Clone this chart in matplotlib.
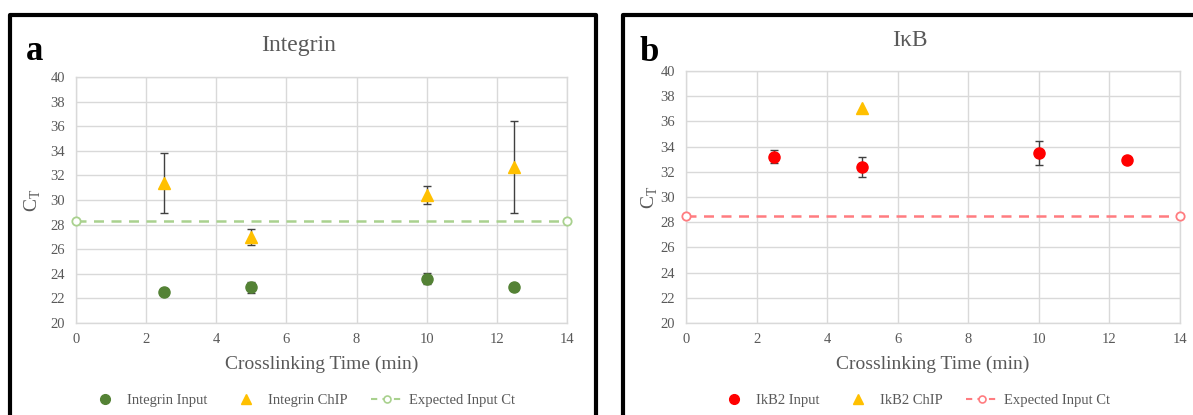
import matplotlib.pyplot as plt
from matplotlib.lines import Line2D

plt.rcParams['font.family'] = ['Liberation Serif', 'DejaVu Serif']
plt.rcParams['mathtext.fontset'] = 'custom'
plt.rcParams['mathtext.rm'] = 'Liberation Serif'

# crosslinking times (min)
x_times = [2.5, 5, 10, 12.5]
x_line = [0, 14]

# Integrin panel
integrin_input = [22.5, 22.9, 23.6, 22.9]
integrin_input_err = [0.15, 0.45, 0.45, 0.15]
integrin_chip = [31.4, 27.0, 30.4, 32.7]
integrin_chip_err = [2.45, 0.65, 0.75, 3.75]
integrin_expected = [28.3, 28.3]

# IkB panel
ikb_input = [33.2, 32.4, 33.5, 32.9]
ikb_input_err = [0.5, 0.8, 0.95, 0.2]
ikb_chip_x = [5]
ikb_chip = [37.1]
ikb_expected = [28.5, 28.5]

W, H = 1193, 415
TXT = '#595959'
GRID = '#D9D9D9'


def px(x0, y0, x1, y1):
    return [x0 / W, 1 - y1 / H, (x1 - x0) / W, (y1 - y0) / H]


def style_axes(ax, ylabelpad):
    ax.set_xlim(0, 14)
    ax.set_ylim(20, 40)
    ax.set_xticks(range(0, 15, 2))
    ax.set_yticks(range(20, 41, 2))
    ax.grid(True, color=GRID, lw=1)
    ax.set_axisbelow(True)
    for s in ax.spines.values():
        s.set_color(GRID)
        s.set_linewidth(1)
    ax.tick_params(length=0, labelsize=10.5, labelcolor=TXT)
    ax.tick_params(axis='y', pad=8)
    ax.tick_params(axis='x', pad=7)
    ax.set_xlabel('Crosslinking Time (min)', fontsize=14, color=TXT, labelpad=7)
    ax.set_ylabel(r'C$_{\mathrm{T}}$', fontsize=14, color=TXT, labelpad=ylabelpad)


def draw_panel(ax, inp, inp_err, chip_x, chip, chip_err, expected,
               in_color, line_color, in_label, chip_label, leg_x, ylabelpad):
    style_axes(ax, ylabelpad)
    ax.errorbar(x_times, inp, yerr=inp_err, fmt='o', color=in_color,
                ms=8, ecolor='#404040', elinewidth=1, capsize=3, zorder=3)
    if chip_err is None:
        ax.plot(chip_x, chip, '^', color='#FFC000', ms=8.5, zorder=3)
    else:
        ax.errorbar(chip_x, chip, yerr=chip_err, fmt='^', color='#FFC000',
                    ms=8.5, ecolor='#404040', elinewidth=1, capsize=3, zorder=3)
    ax.plot(x_line, expected, '--o', color=line_color, lw=1.8, dashes=(4, 3),
            ms=6, mfc='white', mew=1.3, clip_on=False, zorder=4)
    handles = [
        Line2D([], [], ls='none', marker='o', color=in_color, ms=7),
        Line2D([], [], ls='none', marker='^', color='#FFC000', ms=7),
        Line2D([], [], ls='--', dashes=(3, 2.5), marker='o', color=line_color,
               ms=5, mfc='white', mew=1.2, lw=1.5),
    ]
    fig.legend(handles, [in_label, chip_label, 'Expected Input Ct'],
               loc='center', bbox_to_anchor=(leg_x / W, 1 - 400 / H), ncol=3,
               frameon=False, fontsize=10.5, labelcolor=TXT,
               columnspacing=1.6, handlelength=2.2, handletextpad=0.4)


fig = plt.figure(figsize=(W / 100, H / 100), dpi=100)

ax1 = fig.add_axes(px(76, 77, 567, 323))
draw_panel(ax1, integrin_input, integrin_input_err, x_times, integrin_chip,
           integrin_chip_err, integrin_expected, '#548235', '#A9D18E',
           'Integrin Input', 'Integrin ChIP', 302, 5)

ax2 = fig.add_axes(px(686, 71, 1180, 323))
draw_panel(ax2, ikb_input, ikb_input_err, ikb_chip_x, ikb_chip, None,
           ikb_expected, '#FF0000', '#FF7C80',
           'IkB2 Input', 'IkB2 ChIP', 914, 0)

# panel titles
fig.text(299 / W, 1 - 46 / H, 'Integrin', fontsize=17, color=TXT,
         ha='center', va='center')
fig.text(910 / W, 1 - 40 / H, 'I\u03baB', fontsize=17, color=TXT,
         ha='center', va='center')

# panel frames (open at the bottom)
for xs, ys in [([10, 10, 596, 596], [420, 15.5, 15.5, 420]),
               ([623, 623, 1200], [420, 15.5, 15.5])]:
    fig.add_artist(Line2D([x / W for x in xs], [1 - y / H for y in ys],
                          color='black', lw=3, transform=fig.transFigure))

fig.text(26 / W, 1 - 60 / H, 'a', fontsize=25, fontweight='bold', va='baseline')
fig.text(639 / W, 1 - 61 / H, 'b', fontsize=25, fontweight='bold', va='baseline')

fig.savefig('out.png', dpi=100)
